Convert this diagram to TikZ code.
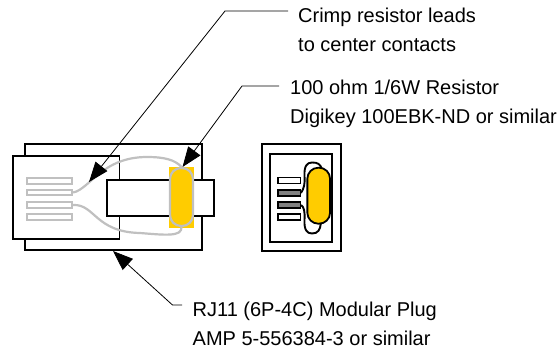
\documentclass[tikz,border=0pt]{standalone}
\usepackage{fontspec}
\setmainfont{Liberation Sans}
\usetikzlibrary{arrows.meta}
\definecolor{resistoryellow}{HTML}{FFCC00}
\definecolor{leadgray}{HTML}{C0C0C0}
\definecolor{pingray}{HTML}{808080}
\begin{document}
\begin{tikzpicture}
        [
            x = 1pt, y = -1pt,
            part/.style = {draw, line width = 1.8pt, fill = white, inner sep = 0pt},
            lead/.style = {draw = leadgray, line width = 2.2pt},
            wire/.style = {draw, line width = 1.9pt},
            sidepin/.style = {part, draw = leadgray, minimum width = 45.5pt, minimum height = 5.5pt},
            endpin/.style = {part, line width = 1.5pt, minimum width = 22.5pt, minimum height = 6pt},
            callout/.style = {line width = 0.8pt, -{Triangle[length = 20pt, width = 15pt]}},
            note/.style = {inner sep = 0pt, anchor = west, align = left, font = \fontsize{20}{28.5}\selectfont}
        ]

        \useasboundingbox (0,0) rectangle (559,351);

        \node (shell) [part, minimum width = 177pt, minimum height = 106pt] at (113.5,197) {};
        \node (housing) [part, minimum width = 106.5pt, minimum height = 83pt] at (66.25,197.5) {};
        \node (band) [part, minimum width = 107pt, minimum height = 35.5pt] at (160.5,198) {};
        \node (glow) [fill = resistoryellow, inner sep = 0pt, minimum width = 25pt, minimum height = 61pt] at (181.5,197.5) {};
        \node (resistor) [lead, rounded corners = 11pt, inner sep = 0pt, minimum width = 23pt, minimum height = 58pt] at (181.5,197) {};

        \foreach \name/\ypos in {1/181, 2/192.5, 3/205, 4/217}
            \node (pin\name) [sidepin] at (49.5,\ypos) {};

        \draw[lead] (pin2.east) .. controls (90,189) and (102,157) .. (147,157) .. controls (165,157) and (175,160) .. (resistor.north);
        \draw[lead] (pin3.east) .. controls (95,204) and (95,232) .. (140,233) .. controls (165,235) and (182,237) .. (resistor.south);

        \node (endshell) [part, minimum width = 79.5pt, minimum height = 106.5pt] at (301.5,197.5) {};
        \node (endhousing) [part, minimum width = 62.5pt, minimum height = 87.5pt] at (301,198) {};

        \foreach \name/\ypos/\shade in {1/180.5/white, 2/193/pingray, 3/205/pingray, 4/217/white}
            \node (endpin\name) [endpin, fill = \shade] at (289,\ypos) {};

        \draw[wire] (endpin2.east) .. controls (304,188) and (305,185) .. (304.5,176) .. controls (304,166) and (307,162.5) .. (312,162.5) .. controls (318,162.5) and (320,164) .. (322,169);
        \draw[wire] (endpin3.east) .. controls (304,207) and (305,211) .. (304.5,220) .. controls (304,230) and (307,233.5) .. (312,233.5) .. controls (318,233.5) and (320,230) .. (321,223);
        \node (endresistor) [part, fill = resistoryellow, rounded corners = 11pt, minimum width = 22.7pt, minimum height = 56pt] at (318.7,195.7) {};

        \node (crimpnote) [note] at (298,30) {Crimp resistor leads\\to center contacts};
        \node (valuenote) [note] at (290,104) {100 ohm 1/6W Resistor\\Digikey 100EBK-ND or similar};
        \node (plugnote) [note] at (192.5,324) {RJ11 (6P-4C) Modular Plug\\AMP 5-556384-3 or similar};

        \coordinate (crimpend) at (288,11);
        \coordinate (crimpbend) at (225,11);
        \coordinate (crimptip) at (89,182);
        \coordinate (valueend) at (279,86);
        \coordinate (valuebend) at (242,86);
        \coordinate (valuetip) at (182.5,167);
        \coordinate (plugend) at (182,305);
        \coordinate (plugbend) at (172.5,305);
        \coordinate (plugtip) at (113,251);

        \draw[callout] (crimpend) -- (crimpbend) -- (crimptip);
        \draw[callout] (valueend) -- (valuebend) -- (valuetip);
        \draw[callout] (plugend) -- (plugbend) -- (plugtip);
    \end{tikzpicture}
\end{document}
